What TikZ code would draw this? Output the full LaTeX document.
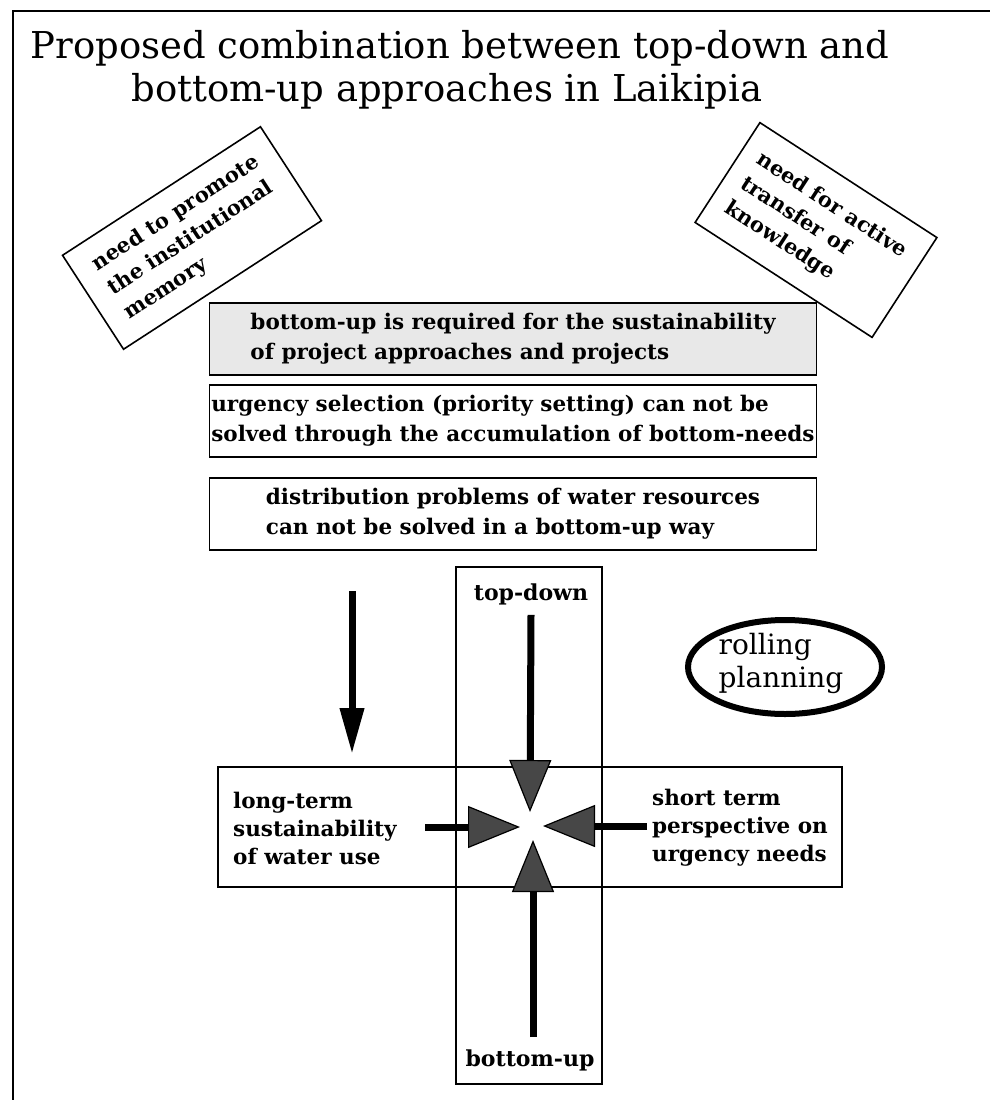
\documentclass[tikz,border=0pt]{standalone}
\usepackage{fontspec}
\setmainfont{DejaVu Serif}
\usetikzlibrary{arrows.meta,shapes.geometric}

\begin{document}
\begin{tikzpicture}[x=1pt,y=-1pt,
  titletext/.style={inner sep=0pt, font=\fontsize{37}{44}\selectfont},
  wordbox/.style={draw=black, line width=1.4pt, minimum width=607pt,
    minimum height=72pt, inner sep=0pt, align=left,
    font=\fontsize{21.5}{30}\selectfont\bfseries},
  tiltbox/.style={draw=black, line width=1.6pt, align=left, inner sep=0pt,
    font=\fontsize{21}{29}\selectfont\bfseries},
  crossbox/.style={draw=black, line width=2.6pt, inner sep=0pt},
  sidetext/.style={anchor=west, align=left, inner sep=0pt,
    font=\fontsize{21.5}{28}\selectfont\bfseries},
  axislabel/.style={inner sep=0pt, font=\fontsize{22}{26}\selectfont\bfseries},
  downarrow/.style={line width=7pt, -{Triangle[length=46pt,width=23pt]}},
  inarrow/.style={line width=7pt,
    -{Triangle[length=52pt,width=42pt,fill=black!72,line width=1.2pt]}},
]
\useasboundingbox (0,0) rectangle (990,1100);

% page frame (top and left edges)
\draw[line width=2pt] (990,11) -- (13,11) -- (13,1100);

% title
\node[titletext] (title1) at (460,48)
  {Proposed combination between top-down and};
\node[titletext] (title2) at (447,91)
  {bottom-up approaches in Laikipia};

% tilted remarks
\node[tiltbox, minimum width=236pt, minimum height=112pt, rotate=33] (memory)
  at (192,238) {need to promote\\the institutional\\memory};
\node[tiltbox, minimum width=211pt, minimum height=119pt, rotate=-33] (transfer)
  at (816,230) {need for active\\transfer of\\knowledge};

% statement boxes
\node[wordbox, fill=black!9] (sustain) at (513,339)
  {bottom-up is required for the sustainability\\of project approaches and projects};
\node[wordbox, fill=white] (urgency) at (513,421)
  {urgency selection (priority setting) can not be\\solved through the accumulation of bottom-needs};
\node[wordbox, fill=white] (distrib) at (513,514)
  {distribution problems of water resources\\can not be solved in a bottom-up way};

% the cross of the two approaches
\node[crossbox, minimum width=146pt, minimum height=517pt] (vbox) at (529,825.5) {};
\node[crossbox, minimum width=624pt, minimum height=120pt] (hbox) at (530,827) {};

\node[axislabel] (td) at (531,594) {top-down};
\node[axislabel] (bu) at (530,1060) {bottom-up};

\node[sidetext] (longterm) at (233,828)
  {long-term\\sustainability\\of water use};
\node[sidetext] (shortterm) at (652,828)
  {short term\\perspective on\\urgency needs};

% rolling planning
\node[ellipse, draw=black, line width=6pt, minimum width=194pt,
  minimum height=94pt, inner sep=0pt] (rolling) at (785,667) {};
\node[align=left, inner sep=0pt, font=\fontsize{28}{33}\selectfont] (rolltext)
  at (781,663) {rolling\\planning};

% arrows
\coordinate (leftstart) at (352,591);
\coordinate (lefttip) at (352,754);
\draw[downarrow] (leftstart) -- (lefttip);

\coordinate (tipN) at (530,812);
\coordinate (tipS) at (533,840);
\coordinate (tipW) at (520,827);
\coordinate (tipE) at (543,826);
\coordinate (startW) at (425,827);
\coordinate (startE) at (647,826);

\draw[inarrow] (td.south) ++(0,10) -- (tipN);
\draw[inarrow] (bu.north) ++(3,-12) -- (tipS);
\draw[inarrow] (startW) -- (tipW);
\draw[inarrow] (startE) -- (tipE);
\end{tikzpicture}
\end{document}
